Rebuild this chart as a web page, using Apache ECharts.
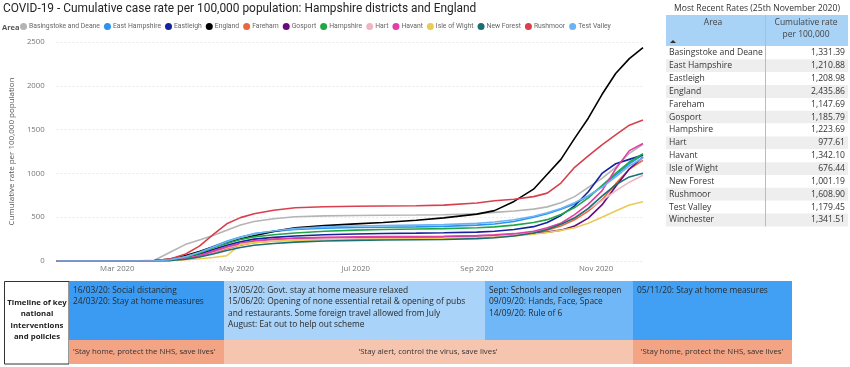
<!DOCTYPE html>
<html><head><meta charset="utf-8">
<script src="https://cdn.jsdelivr.net/npm/echarts@6/dist/echarts.min.js"></script>
<style>html,body{margin:0;padding:0;background:#fff}#c{width:850px;height:367px}</style>
</head><body><div id="c"></div>
<script>
const dates = ['2020-01-30','2020-02-15','2020-03-01','2020-03-12','2020-03-20','2020-03-28','2020-04-05','2020-04-12','2020-04-19','2020-04-26','2020-05-03','2020-05-10','2020-05-20','2020-05-31','2020-06-15','2020-07-01','2020-07-15','2020-08-01','2020-08-15','2020-09-01','2020-09-10','2020-09-20','2020-09-30','2020-10-07','2020-10-14','2020-10-21','2020-10-28','2020-11-04','2020-11-11','2020-11-18','2020-11-25'];
const basingstoke = [0,0,0,1,8,100,190,240,290,350,412,450,482,505,515,520,523,525,528,540,555,570,592,618,665,735,840,944,1070,1230,1331];
const eastHampshire = [0,0,0,0,3,15,55,105,165,225,275,312,338,360,375,382,386,390,395,410,422,450,500,540,590,650,740,850,980,1110,1211];
const eastleigh = [0,0,0,0,2,10,35,80,130,180,220,250,270,285,300,308,314,318,322,330,340,360,392,440,520,630,790,1000,1110,1160,1209];
const england = [0,0,0,1,6,22,62,108,160,208,250,288,338,378,404,424,440,466,492,535,575,680,820,990,1160,1400,1630,1900,2140,2310,2436];
const fareham = [0,0,0,0,2,5,20,50,95,140,180,210,230,242,250,254,257,260,263,270,280,295,320,352,400,470,570,700,880,1050,1148];
const gosport = [0,0,0,0,2,6,25,60,110,160,200,225,245,255,262,266,270,272,275,282,290,300,315,330,352,400,490,640,850,1050,1186];
const hampshire = [0,0,0,0,3,12,42,90,150,200,245,275,300,320,340,352,360,365,370,380,390,410,440,472,530,610,720,860,1000,1130,1224];
const hart = [0,0,0,0,2,6,25,60,100,150,190,215,235,245,252,256,258,260,263,272,282,300,330,370,430,500,590,690,800,900,978];
const havant = [0,0,0,0,2,6,25,60,110,160,200,230,250,262,270,275,278,280,283,290,298,312,340,380,432,530,650,800,1050,1260,1342];
const isleOfWight = [0,0,0,0,1,5,15,25,40,60,190,210,225,235,242,246,250,252,255,262,270,285,305,325,350,380,430,500,570,640,676];
const newForest = [0,0,0,0,2,5,20,45,80,120,155,180,200,215,228,235,240,243,246,255,265,285,320,360,420,490,600,740,870,960,1001];
const rushmoor = [0,0,0,0,4,22,80,170,300,425,495,540,580,608,620,625,628,630,638,662,688,705,735,775,890,1070,1200,1325,1440,1550,1609];
const testValley = [0,0,0,0,3,15,50,100,160,220,270,310,342,370,390,400,405,410,415,430,445,470,510,550,600,665,745,840,960,1085,1179];

const seriesNames = ['Basingstoke and Deane','East Hampshire','Eastleigh','England','Fareham','Gosport','Hampshire','Hart','Havant','Isle of Wight','New Forest','Rushmoor','Test Valley'];
const seriesValues = [basingstoke,eastHampshire,eastleigh,england,fareham,gosport,hampshire,hart,havant,isleOfWight,newForest,rushmoor,testValley];
const seriesColors = ['#B4B4B4','#2B93EE','#15249C','#000000','#E8693E','#6A0B7B','#1DA845','#F0B5C2','#E03FA6','#E9CB55','#1A6F72','#D8404D','#6CB3F5'];

const xTickDates = ['2020-03-01','2020-05-01','2020-07-01','2020-09-01','2020-11-01'];
const xTickLabels = ['Mar 2020','May 2020','Jul 2020','Sep 2020','Nov 2020'];

const tableAreas = ['Basingstoke and Deane','East Hampshire','Eastleigh','England','Fareham','Gosport','Hampshire','Hart','Havant','Isle of Wight','New Forest','Rushmoor','Test Valley','Winchester'];
const tableRates = ['1,331.39','1,210.88','1,208.98','2,435.86','1,147.69','1,185.79','1,223.69','977.61','1,342.10','676.44','1,001.19','1,608.90','1,179.45','1,341.51'];

const timelineTop = ['16/03/20: Social distancing\n24/03/20: Stay at home measures',
  '13/05/20: Govt. stay at home measure relaxed\n15/06/20: Opening of none essential retail & opening of pubs\nand restaurants. Some foreign travel allowed from July\nAugust: Eat out to help out scheme',
  'Sept: Schools and colleges reopen\n09/09/20: Hands, Face, Space\n14/09/20: Rule of 6',
  '05/11/20: Stay at home measures'];
const timelineSlogans = ["'Stay home, protect the NHS, save lives'","'Stay alert, control the virus, save lives'","'Stay home, protect the NHS, save lives'"];

const FONT = "'Open Sans', 'Noto Sans', sans-serif";
const ts = s => new Date(s + 'T00:00:00Z').getTime();
const tickTs = xTickDates.map(ts);

const chart = echarts.init(document.getElementById('c'), null, {renderer:'canvas'});

const series = seriesNames.map((n,k)=>({
  name:n, type:'line', symbol:'none', smooth:false,
  lineStyle:{width:1.6,color:seriesColors[k]}, itemStyle:{color:seriesColors[k]},
  data: dates.map((d,i)=>[ts(d), seriesValues[k][i]])
}));

const g = [];
g.push({type:'text', left:3, top:3, style:{text:'COVID-19 - Cumulative case rate per 100,000 population: Hampshire districts and England', fontFamily:'Roboto, sans-serif', fontSize:11.9, fill:'#252423'}});
g.push({type:'text', left:2, top:24, style:{text:'Area', fontFamily:FONT, fontSize:7.5, fontWeight:'bold', fill:'#555'}});

const tx0 = 666, tx1 = 848, rowH = 12.85, rowTop = 46.5;
g.push({type:'text', x:757, y:9, style:{text:'Most Recent Rates (25th November 2020)', fontFamily:FONT, fontSize:8.6, fill:'#333', align:'center', verticalAlign:'middle'}});
g.push({type:'rect', shape:{x:tx0, y:15, width:tx1-tx0, height:31}, style:{fill:'#A8D3F7'}});
g.push({type:'text', x:713, y:23, style:{text:'Area', fontFamily:FONT, fontSize:8.5, fill:'#444', align:'center', verticalAlign:'middle'}});
g.push({type:'text', x:806, y:29, style:{text:'Cumulative rate\nper 100,000', fontFamily:FONT, fontSize:8.5, lineHeight:12, fill:'#444', align:'center', verticalAlign:'middle'}});
g.push({type:'polygon', shape:{points:[[670,43],[673,40],[676,43]]}, style:{fill:'#333'}});
tableAreas.forEach((a,i)=>{
  const y = rowTop + i*rowH;
  g.push({type:'rect', shape:{x:tx0, y:y, width:tx1-tx0, height:rowH}, style:{fill: i%2 ? '#EEEEEE' : '#FFFFFF'}});
  g.push({type:'text', x:669, y:y+rowH/2, style:{text:a, fontFamily:FONT, fontSize:8.6, fill:'#333', verticalAlign:'middle'}});
  g.push({type:'text', x:845, y:y+rowH/2, style:{text:tableRates[i], fontFamily:FONT, fontSize:8.6, fill:'#333', align:'right', verticalAlign:'middle'}});
});
g.push({type:'line', shape:{x1:765.5, y1:15, x2:765.5, y2:rowTop+14*rowH}, style:{stroke:'#8FC6F2', lineWidth:1}});

const tTop = 281, tMid = 340, tBot = 364;
g.push({type:'rect', shape:{x:4.5, y:tTop+0.5, width:64.5, height:tBot-tTop-0.5}, style:{fill:'#fff', stroke:'#333', lineWidth:1}});
g.push({type:'text', x:37, y:320, style:{text:'Timeline of key\nnational\ninterventions\nand policies', fontFamily:FONT, fontSize:7.8, fontWeight:'bold', lineHeight:11.5, fill:'#222', align:'center', verticalAlign:'middle'}});
const blockX = [69,224,485,633,792];
const blockCol = ['#3B9BF2','#A9D3F8','#70B7F7','#41A0F4'];
blockCol.forEach((c,i)=>{
  g.push({type:'rect', shape:{x:blockX[i], y:tTop, width:blockX[i+1]-blockX[i], height:tMid-tTop}, style:{fill:c}});
  g.push({type:'text', x:blockX[i]+4, y:tTop+4, style:{text:timelineTop[i], fontFamily:FONT, fontSize:8.4, lineHeight:11.3, fill:'#2a2a2a', verticalAlign:'top'}});
});
const sloX = [69,224,633,792];
const sloCol = ['#F2A484','#F6C5B0','#F2A484'];
sloCol.forEach((c,i)=>{
  g.push({type:'rect', shape:{x:sloX[i], y:tMid, width:sloX[i+1]-sloX[i], height:tBot-tMid}, style:{fill:c}});
});
g.push({type:'text', x:73, y:352, style:{text:timelineSlogans[0], fontFamily:FONT, fontSize:7.8, fill:'#333', verticalAlign:'middle'}});
g.push({type:'text', x:428, y:352, style:{text:timelineSlogans[1], fontFamily:FONT, fontSize:7.8, fill:'#333', align:'center', verticalAlign:'middle'}});
g.push({type:'text', x:712, y:352, style:{text:timelineSlogans[2], fontFamily:FONT, fontSize:7.8, fill:'#333', align:'center', verticalAlign:'middle'}});

chart.setOption({
  animation:false,
  backgroundColor:'#fff',
  color: seriesColors,
  legend:{data:seriesNames, left:20, top:23, padding:0, icon:'circle', itemWidth:7, itemHeight:7, itemGap:4,
    textStyle:{fontFamily:'Roboto, sans-serif', fontSize:6.8, color:'#666', padding:[0,0,0,-3]}},
  grid:{left:42, right:207, top:42, bottom:106, containLabel:false},
  xAxis:{type:'value', min:ts('2020-01-30'), max:ts('2020-11-25'),
    axisLine:{show:false}, axisTick:{show:false}, splitLine:{show:false},
    axisLabel:{customValues:tickTs, fontFamily:FONT, fontSize:7.8, color:'#777', margin:4, hideOverlap:false,
      formatter:v=>{const i=tickTs.indexOf(v); return i>=0?xTickLabels[i]:'';}}},
  yAxis:{type:'value', min:0, max:2500, interval:500,
    name:'Cumulative rate per 100,000 population', nameLocation:'middle', nameGap:36, nameRotate:90,
    nameTextStyle:{fontFamily:FONT, fontSize:8, color:'#555'},
    axisLine:{show:false}, axisTick:{show:false},
    axisLabel:{fontFamily:FONT, fontSize:7.8, color:'#777', margin:12, formatter:v=>String(v)},
    splitLine:{lineStyle:{color:'#D8D8D8', type:[1,3], width:1}}},
  graphic:g,
  series: series
});
</script></body></html>
